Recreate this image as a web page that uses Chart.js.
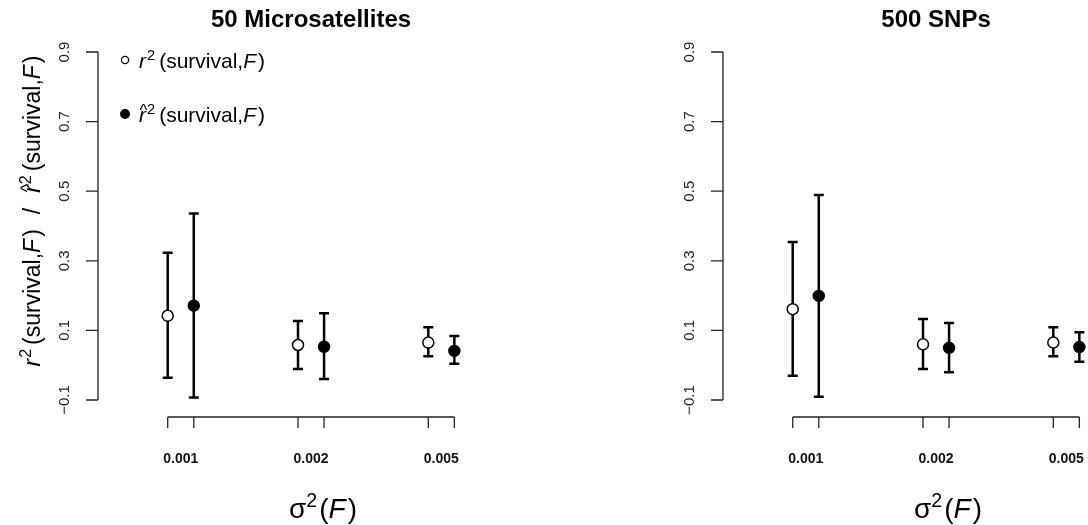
<!DOCTYPE html>
<html>
<head>
<meta charset="utf-8">
<script src="https://cdn.jsdelivr.net/npm/chart.js@4"></script>
<style>
  body { margin: 0; background: #fff; }
  #wrap { position: relative; width: 1088px; height: 525px; overflow: hidden; }
  canvas { position: absolute; top: 0; }
  #left { left: 0; }
  #right { left: 625px; }
</style>
</head>
<body>
<div id="wrap">
  <canvas id="left" width="625" height="525"></canvas>
  <canvas id="right" width="625" height="525"></canvas>
</div>
<script>
var groups = ["0.001", "0.002", "0.005"];
var yTicks = [-0.1, 0.1, 0.3, 0.5, 0.7, 0.9];
var yTickLabels = ["\u22120.1", "0.1", "0.3", "0.5", "0.7", "0.9"];

// 50 microsatellites: true r^2 and estimated r^2, with interval ends
var msatTrue = [0.142, 0.058, 0.065];
var msatTrueLow = [-0.036, -0.011, 0.026];
var msatTrueHigh = [0.323, 0.127, 0.109];
var msatEst = [0.171, 0.053, 0.041];
var msatEstLow = [-0.093, -0.040, 0.004];
var msatEstHigh = [0.436, 0.149, 0.084];

// 500 SNPs
var snpTrue = [0.161, 0.060, 0.065];
var snpTrueLow = [-0.030, -0.011, 0.026];
var snpTrueHigh = [0.354, 0.133, 0.109];
var snpEst = [0.199, 0.050, 0.052];
var snpEstLow = [-0.091, -0.020, 0.010];
var snpEstHigh = [0.489, 0.121, 0.095];

var FONT = '"Liberation Sans", Arial, Helvetica, sans-serif';

// little plotmath-ish text: italic bits, superscripts and a hat over r
var rSq = [{t: "r", it: true, pad: 1}, {t: "2", sup: true, pad: 4}, {t: "(survival,"}, {t: "F", it: true, pad: 2}, {t: ")"}];
var rHatSq = [{t: "r", it: true, hat: true, pad: 1}, {t: "2", sup: true, pad: 4}, {t: "(survival,"}, {t: "F", it: true, pad: 2}, {t: ")"}];
var sigmaF = [{t: "\u03c3"}, {t: "2", sup: true, pad: 2}, {t: "("}, {t: "F", it: true, pad: 2}, {t: ")"}];

function mathText(ctx, parts, x, y, size, draw) {
  var cx = x;
  parts.forEach(function(p) {
    var fs = p.sup ? size * 0.7 : size;
    ctx.font = (p.it ? "italic " : "") + fs + "px " + FONT;
    var w = ctx.measureText(p.t).width;
    if (draw) {
      ctx.fillText(p.t, cx, y + (p.sup ? -size * 0.38 : 0));
      if (p.hat) {
        ctx.font = (size * 0.8) + "px " + FONT;
        var hw = ctx.measureText("^").width;
        ctx.fillText("^", cx + w / 2 - hw / 2 + 1, y - size * 0.3);
      }
    }
    cx += w + (p.pad || 0);
  });
  return cx - x;
}

function makeSeries(vals, low, high, offset, fill) {
  return {
    data: vals.map(function(v, i) { return {x: i + 1 + offset, y: v}; }),
    errLow: low,
    errHigh: high,
    pointRadius: 5.5,
    pointHoverRadius: 5.5,
    pointBorderWidth: 1.5,
    pointBackgroundColor: fill,
    pointBorderColor: "#000",
    clip: false
  };
}

var rStyle = {
  id: "rStyle",
  beforeDatasetsDraw: function(chart) {
    var ctx = chart.ctx, xs = chart.scales.x, ys = chart.scales.y;
    ctx.save();
    ctx.strokeStyle = "#000";
    ctx.lineWidth = 2.5;
    chart.data.datasets.forEach(function(ds) {
      ds.data.forEach(function(pt, i) {
        var px = xs.getPixelForValue(pt.x);
        var lo = ys.getPixelForValue(ds.errLow[i]);
        var hi = ys.getPixelForValue(ds.errHigh[i]);
        ctx.beginPath();
        ctx.moveTo(px, lo); ctx.lineTo(px, hi);
        ctx.moveTo(px - 5, lo); ctx.lineTo(px + 5, lo);
        ctx.moveTo(px - 5, hi); ctx.lineTo(px + 5, hi);
        ctx.stroke();
      });
    });
    ctx.restore();
  },
  afterDraw: function(chart, args, opts) {
    var ctx = chart.ctx, xs = chart.scales.x, ys = chart.scales.y;
    var area = chart.chartArea;
    ctx.save();
    ctx.strokeStyle = "#222";
    ctx.fillStyle = "#222";
    ctx.lineWidth = 1.3;

    // y axis with rotated labels
    var ax = area.left;
    ctx.beginPath();
    ctx.moveTo(ax, ys.getPixelForValue(yTicks[0]));
    ctx.lineTo(ax, ys.getPixelForValue(yTicks[yTicks.length - 1]));
    yTicks.forEach(function(v) {
      var py = ys.getPixelForValue(v);
      ctx.moveTo(ax, py); ctx.lineTo(ax - 12, py);
    });
    ctx.stroke();
    ctx.font = "15px " + FONT;
    ctx.textAlign = "center";
    ctx.textBaseline = "alphabetic";
    yTicks.forEach(function(v, i) {
      ctx.save();
      ctx.translate(ax - 29, ys.getPixelForValue(v));
      ctx.rotate(-Math.PI / 2);
      ctx.fillText(yTickLabels[i], 0, 0);
      ctx.restore();
    });

    // x axis: a tick under every point, group label between the pair
    var xTickPos = [];
    chart.data.datasets.forEach(function(ds) {
      ds.data.forEach(function(pt) { xTickPos.push(pt.x); });
    });
    xTickPos.sort(function(a, b) { return a - b; });
    var ay = area.bottom + 17;
    ctx.beginPath();
    ctx.moveTo(xs.getPixelForValue(xTickPos[0]), ay);
    ctx.lineTo(xs.getPixelForValue(xTickPos[xTickPos.length - 1]), ay);
    xTickPos.forEach(function(v) {
      var px = xs.getPixelForValue(v);
      ctx.moveTo(px, ay); ctx.lineTo(px, ay + 11);
    });
    ctx.stroke();
    ctx.fillStyle = "#111";
    ctx.font = "bold 14px " + FONT;
    groups.forEach(function(g, i) {
      ctx.fillText(g, xs.getPixelForValue(i + 1.1), area.bottom + 63);
    });

    // x axis title
    ctx.fillStyle = "#000";
    ctx.textAlign = "left";
    var mid = (xs.getPixelForValue(xTickPos[0]) + xs.getPixelForValue(xTickPos[xTickPos.length - 1])) / 2;
    var tw = mathText(ctx, sigmaF, 0, 0, 28, false);
    mathText(ctx, sigmaF, mid + 12 - tw / 2, area.bottom + 118, 28, true);

    // panel title
    ctx.textAlign = "center";
    ctx.font = "bold 24px " + FONT;
    ctx.fillText(opts.title, xs.getPixelForValue(2.1), 27);

    if (opts.yTitle) {
      ctx.textAlign = "left";
      var w1 = mathText(ctx, rSq, 0, 0, 23, false);
      var w2 = mathText(ctx, rHatSq, 0, 0, 23, false);
      ctx.font = "23px " + FONT;
      var sw = ctx.measureText("/").width;
      var gap = 15;
      var total = w1 + gap + sw + gap + w2;
      var cy = (ys.getPixelForValue(yTicks[0]) + ys.getPixelForValue(yTicks[yTicks.length - 1])) / 2 - 15;
      ctx.save();
      ctx.translate(40, cy + total / 2);
      ctx.rotate(-Math.PI / 2);
      mathText(ctx, rSq, 0, 0, 23, true);
      ctx.font = "23px " + FONT;
      ctx.fillText("/", w1 + gap, 0);
      mathText(ctx, rHatSq, w1 + gap + sw + gap, 0, 23, true);
      ctx.restore();
    }

    if (opts.legend) {
      var lx = ax + 27;
      var rows = [{parts: rSq, fill: "#fff", r: 3.6, y: 60}, {parts: rHatSq, fill: "#000", r: 4.3, y: 114}];
      ctx.textAlign = "left";
      rows.forEach(function(row) {
        ctx.beginPath();
        ctx.arc(lx, row.y, row.r, 0, Math.PI * 2);
        ctx.fillStyle = row.fill;
        ctx.fill();
        ctx.lineWidth = 1.3;
        ctx.strokeStyle = "#000";
        ctx.stroke();
        ctx.fillStyle = "#000";
        mathText(ctx, row.parts, lx + 14, row.y + 8, 21, true);
      });
    }
    ctx.restore();
  }
};

function drawPanel(id, title, trueVals, trueLow, trueHigh, estVals, estLow, estHigh, first) {
  var ctx = document.getElementById(id).getContext("2d");
  return new Chart(ctx, {
    type: "scatter",
    data: {
      datasets: [
        makeSeries(trueVals, trueLow, trueHigh, 0, "#fff"),
        makeSeries(estVals, estLow, estHigh, 0.2, "#000")
      ]
    },
    options: {
      responsive: false,
      animation: false,
      devicePixelRatio: 1,
      layout: {padding: {left: 98, right: 155, top: 52, bottom: 125}},
      scales: {
        x: {type: "linear", display: false, min: 0.465, max: 3.32},
        y: {type: "linear", display: false, min: -0.1, max: 0.9}
      },
      plugins: {
        legend: {display: false},
        tooltip: {enabled: false},
        rStyle: {title: title, legend: first, yTitle: first}
      }
    },
    plugins: [rStyle]
  });
}

drawPanel("left", "50 Microsatellites", msatTrue, msatTrueLow, msatTrueHigh, msatEst, msatEstLow, msatEstHigh, true);
drawPanel("right", "500 SNPs", snpTrue, snpTrueLow, snpTrueHigh, snpEst, snpEstLow, snpEstHigh, false);
</script>
</body>
</html>
